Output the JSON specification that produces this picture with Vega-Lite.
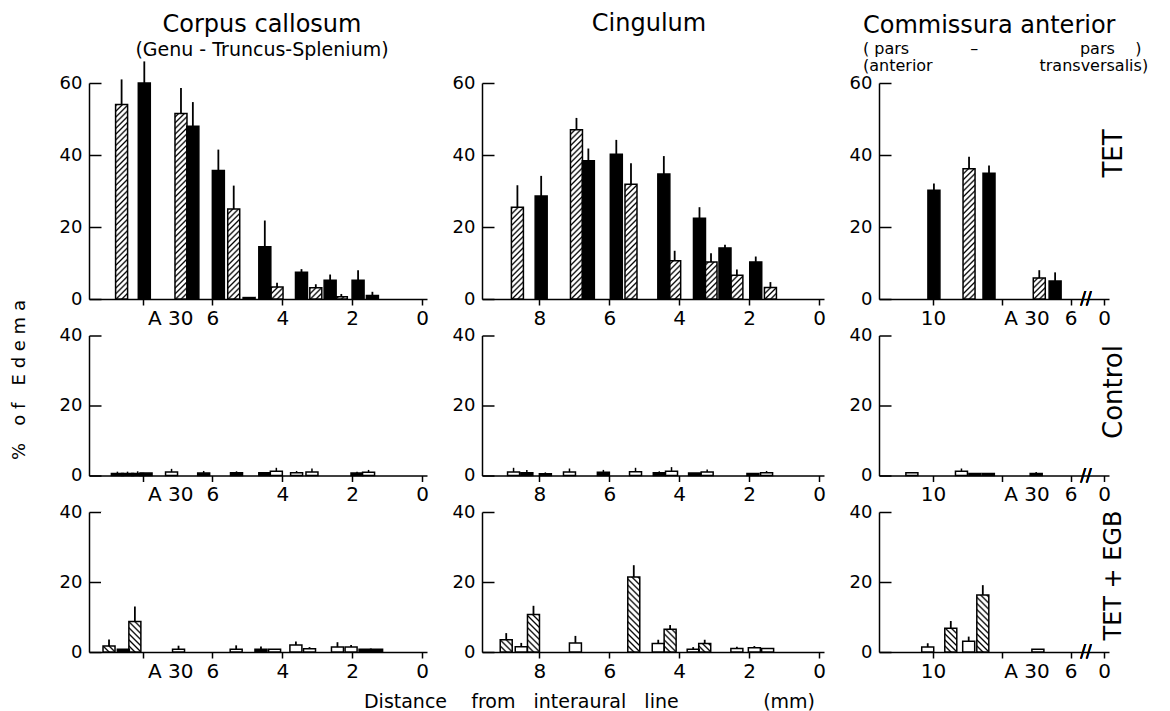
{
  "$schema": "https://vega.github.io/schema/vega-lite/v6.json",
  "background": "white",
  "padding": {"left": 9, "top": 12, "right": 5, "bottom": 3},
  "config": {
    "font": "DejaVu Sans",
    "view": {"stroke": null},
    "axis": {"grid": false, "domainColor": "#000", "domainWidth": 1.5, "tickColor": "#000", "tickWidth": 1.5, "labelColor": "#000", "labelFont": "DejaVu Sans", "titleColor": "#000", "titleFont": "DejaVu Sans", "titleFontWeight": "normal", "labelFlush": false, "labelOverlap": false},
    "axisX": {"tickSize": 6, "labelFontSize": 20, "labelPadding": 3},
    "axisY": {"tickSize": -12, "labelFontSize": 18, "labelPadding": 19},
    "title": {"font": "DejaVu Sans", "subtitleFont": "DejaVu Sans", "fontWeight": "normal", "color": "#000", "subtitleColor": "#000"}
  },
  "params": [
    {"name": "gA", "value": {"gradient": "linear", "x1": 0, "y1": 0, "x2": 0.0585, "y2": 1.0523, "stops": [
      {"offset":0,"color":"#000"},{"offset":0.008,"color":"#fff"},{"offset":0.017,"color":"#fff"},
      {"offset":0.025,"color":"#000"},{"offset":0.033,"color":"#fff"},{"offset":0.042,"color":"#fff"},
      {"offset":0.05,"color":"#000"},{"offset":0.058,"color":"#fff"},{"offset":0.067,"color":"#fff"},
      {"offset":0.075,"color":"#000"},{"offset":0.083,"color":"#fff"},{"offset":0.092,"color":"#fff"},
      {"offset":0.1,"color":"#000"},{"offset":0.108,"color":"#fff"},{"offset":0.117,"color":"#fff"},
      {"offset":0.125,"color":"#000"},{"offset":0.133,"color":"#fff"},{"offset":0.142,"color":"#fff"},
      {"offset":0.15,"color":"#000"},{"offset":0.158,"color":"#fff"},{"offset":0.167,"color":"#fff"},
      {"offset":0.175,"color":"#000"},{"offset":0.183,"color":"#fff"},{"offset":0.192,"color":"#fff"},
      {"offset":0.2,"color":"#000"},{"offset":0.208,"color":"#fff"},{"offset":0.217,"color":"#fff"},
      {"offset":0.225,"color":"#000"},{"offset":0.233,"color":"#fff"},{"offset":0.242,"color":"#fff"},
      {"offset":0.25,"color":"#000"},{"offset":0.258,"color":"#fff"},{"offset":0.267,"color":"#fff"},
      {"offset":0.275,"color":"#000"},{"offset":0.283,"color":"#fff"},{"offset":0.292,"color":"#fff"},
      {"offset":0.3,"color":"#000"},{"offset":0.308,"color":"#fff"},{"offset":0.317,"color":"#fff"},
      {"offset":0.325,"color":"#000"},{"offset":0.333,"color":"#fff"},{"offset":0.342,"color":"#fff"},
      {"offset":0.35,"color":"#000"},{"offset":0.358,"color":"#fff"},{"offset":0.367,"color":"#fff"},
      {"offset":0.375,"color":"#000"},{"offset":0.383,"color":"#fff"},{"offset":0.392,"color":"#fff"},
      {"offset":0.4,"color":"#000"},{"offset":0.408,"color":"#fff"},{"offset":0.417,"color":"#fff"},
      {"offset":0.425,"color":"#000"},{"offset":0.433,"color":"#fff"},{"offset":0.442,"color":"#fff"},
      {"offset":0.45,"color":"#000"},{"offset":0.458,"color":"#fff"},{"offset":0.467,"color":"#fff"},
      {"offset":0.475,"color":"#000"},{"offset":0.483,"color":"#fff"},{"offset":0.492,"color":"#fff"},
      {"offset":0.5,"color":"#000"},{"offset":0.508,"color":"#fff"},{"offset":0.517,"color":"#fff"},
      {"offset":0.525,"color":"#000"},{"offset":0.533,"color":"#fff"},{"offset":0.542,"color":"#fff"},
      {"offset":0.55,"color":"#000"},{"offset":0.558,"color":"#fff"},{"offset":0.567,"color":"#fff"},
      {"offset":0.575,"color":"#000"},{"offset":0.583,"color":"#fff"},{"offset":0.592,"color":"#fff"},
      {"offset":0.6,"color":"#000"},{"offset":0.608,"color":"#fff"},{"offset":0.617,"color":"#fff"},
      {"offset":0.625,"color":"#000"},{"offset":0.633,"color":"#fff"},{"offset":0.642,"color":"#fff"},
      {"offset":0.65,"color":"#000"},{"offset":0.658,"color":"#fff"},{"offset":0.667,"color":"#fff"},
      {"offset":0.675,"color":"#000"},{"offset":0.683,"color":"#fff"},{"offset":0.692,"color":"#fff"},
      {"offset":0.7,"color":"#000"},{"offset":0.708,"color":"#fff"},{"offset":0.717,"color":"#fff"},
      {"offset":0.725,"color":"#000"},{"offset":0.733,"color":"#fff"},{"offset":0.742,"color":"#fff"},
      {"offset":0.75,"color":"#000"},{"offset":0.758,"color":"#fff"},{"offset":0.767,"color":"#fff"},
      {"offset":0.775,"color":"#000"},{"offset":0.783,"color":"#fff"},{"offset":0.792,"color":"#fff"},
      {"offset":0.8,"color":"#000"},{"offset":0.808,"color":"#fff"},{"offset":0.817,"color":"#fff"},
      {"offset":0.825,"color":"#000"},{"offset":0.833,"color":"#fff"},{"offset":0.842,"color":"#fff"},
      {"offset":0.85,"color":"#000"},{"offset":0.858,"color":"#fff"},{"offset":0.867,"color":"#fff"},
      {"offset":0.875,"color":"#000"},{"offset":0.883,"color":"#fff"},{"offset":0.892,"color":"#fff"},
      {"offset":0.9,"color":"#000"},{"offset":0.908,"color":"#fff"},{"offset":0.917,"color":"#fff"},
      {"offset":0.925,"color":"#000"},{"offset":0.933,"color":"#fff"},{"offset":0.942,"color":"#fff"},
      {"offset":0.95,"color":"#000"},{"offset":0.958,"color":"#fff"},{"offset":0.967,"color":"#fff"},
      {"offset":0.975,"color":"#000"},{"offset":0.983,"color":"#fff"},{"offset":0.992,"color":"#fff"},
      {"offset":1,"color":"#000"}]}},
    {"name": "gB", "value": {"gradient": "linear", "x1": 1, "y1": 0, "x2": 0.9076, "y2": 1.0778, "stops": [
      {"offset":0,"color":"#000"},{"offset":0.012,"color":"#fff"},{"offset":0.028,"color":"#fff"},
      {"offset":0.04,"color":"#000"},{"offset":0.052,"color":"#fff"},{"offset":0.068,"color":"#fff"},
      {"offset":0.08,"color":"#000"},{"offset":0.092,"color":"#fff"},{"offset":0.108,"color":"#fff"},
      {"offset":0.12,"color":"#000"},{"offset":0.132,"color":"#fff"},{"offset":0.148,"color":"#fff"},
      {"offset":0.16,"color":"#000"},{"offset":0.172,"color":"#fff"},{"offset":0.188,"color":"#fff"},
      {"offset":0.2,"color":"#000"},{"offset":0.212,"color":"#fff"},{"offset":0.228,"color":"#fff"},
      {"offset":0.24,"color":"#000"},{"offset":0.252,"color":"#fff"},{"offset":0.268,"color":"#fff"},
      {"offset":0.28,"color":"#000"},{"offset":0.292,"color":"#fff"},{"offset":0.308,"color":"#fff"},
      {"offset":0.32,"color":"#000"},{"offset":0.332,"color":"#fff"},{"offset":0.348,"color":"#fff"},
      {"offset":0.36,"color":"#000"},{"offset":0.372,"color":"#fff"},{"offset":0.388,"color":"#fff"},
      {"offset":0.4,"color":"#000"},{"offset":0.412,"color":"#fff"},{"offset":0.428,"color":"#fff"},
      {"offset":0.44,"color":"#000"},{"offset":0.452,"color":"#fff"},{"offset":0.468,"color":"#fff"},
      {"offset":0.48,"color":"#000"},{"offset":0.492,"color":"#fff"},{"offset":0.508,"color":"#fff"},
      {"offset":0.52,"color":"#000"},{"offset":0.532,"color":"#fff"},{"offset":0.548,"color":"#fff"},
      {"offset":0.56,"color":"#000"},{"offset":0.572,"color":"#fff"},{"offset":0.588,"color":"#fff"},
      {"offset":0.6,"color":"#000"},{"offset":0.612,"color":"#fff"},{"offset":0.628,"color":"#fff"},
      {"offset":0.64,"color":"#000"},{"offset":0.652,"color":"#fff"},{"offset":0.668,"color":"#fff"},
      {"offset":0.68,"color":"#000"},{"offset":0.692,"color":"#fff"},{"offset":0.708,"color":"#fff"},
      {"offset":0.72,"color":"#000"},{"offset":0.732,"color":"#fff"},{"offset":0.748,"color":"#fff"},
      {"offset":0.76,"color":"#000"},{"offset":0.772,"color":"#fff"},{"offset":0.788,"color":"#fff"},
      {"offset":0.8,"color":"#000"},{"offset":0.812,"color":"#fff"},{"offset":0.828,"color":"#fff"},
      {"offset":0.84,"color":"#000"},{"offset":0.852,"color":"#fff"},{"offset":0.868,"color":"#fff"},
      {"offset":0.88,"color":"#000"},{"offset":0.892,"color":"#fff"},{"offset":0.908,"color":"#fff"},
      {"offset":0.92,"color":"#000"},{"offset":0.932,"color":"#fff"},{"offset":0.948,"color":"#fff"},
      {"offset":0.96,"color":"#000"},{"offset":0.972,"color":"#fff"},{"offset":0.988,"color":"#fff"},
      {"offset":1,"color":"#000"}]}}
  ],
  "datasets": {
    "d": [
      {"r":"T","c":"cc","mm":8.60,"v":54,"hi":61,"t":"h"},
      {"r":"T","c":"cc","mm":7.95,"v":60,"hi":66,"t":"b"},
      {"r":"T","c":"cc","mm":6.90,"v":51.5,"hi":58.6,"t":"h"},
      {"r":"T","c":"cc","mm":6.56,"v":48,"hi":54.7,"t":"b"},
      {"r":"T","c":"cc","mm":5.83,"v":35.7,"hi":41.5,"t":"b"},
      {"r":"T","c":"cc","mm":5.39,"v":25,"hi":31.5,"t":"h"},
      {"r":"T","c":"cc","mm":4.95,"v":0.4,"t":"b"},
      {"r":"T","c":"cc","mm":4.50,"v":14.5,"hi":21.8,"t":"b"},
      {"r":"T","c":"cc","mm":4.15,"v":3.3,"hi":4.5,"t":"h"},
      {"r":"T","c":"cc","mm":3.45,"v":7.4,"hi":8.3,"t":"b"},
      {"r":"T","c":"cc","mm":3.04,"v":3.1,"hi":4.1,"t":"h"},
      {"r":"T","c":"cc","mm":2.63,"v":5.2,"hi":6.8,"t":"b"},
      {"r":"T","c":"cc","mm":2.31,"v":0.6,"hi":1.4,"t":"h"},
      {"r":"T","c":"cc","mm":1.83,"v":5.2,"hi":8.0,"t":"b"},
      {"r":"T","c":"cc","mm":1.42,"v":1.0,"hi":2.0,"t":"b"},
      {"r":"T","c":"cg","mm":8.63,"v":25.5,"hi":31.6,"t":"h"},
      {"r":"T","c":"cg","mm":7.95,"v":28.6,"hi":34.2,"t":"b"},
      {"r":"T","c":"cg","mm":6.94,"v":47,"hi":50.3,"t":"h"},
      {"r":"T","c":"cg","mm":6.60,"v":38.4,"hi":41.8,"t":"b"},
      {"r":"T","c":"cg","mm":5.80,"v":40.2,"hi":44.2,"t":"b"},
      {"r":"T","c":"cg","mm":5.38,"v":31.9,"hi":37.7,"t":"h"},
      {"r":"T","c":"cg","mm":4.44,"v":34.7,"hi":39.7,"t":"b"},
      {"r":"T","c":"cg","mm":4.13,"v":10.6,"hi":13.4,"t":"h"},
      {"r":"T","c":"cg","mm":3.42,"v":22.4,"hi":25.5,"t":"b"},
      {"r":"T","c":"cg","mm":3.09,"v":10.3,"hi":12.7,"t":"h"},
      {"r":"T","c":"cg","mm":2.69,"v":14.2,"hi":15.1,"t":"b"},
      {"r":"T","c":"cg","mm":2.35,"v":6.6,"hi":8.2,"t":"h"},
      {"r":"T","c":"cg","mm":1.81,"v":10.3,"hi":11.8,"t":"b"},
      {"r":"T","c":"cg","mm":1.39,"v":3.2,"hi":4.7,"t":"h"},
      {"r":"T","c":"ca","mm":9.97,"v":30.2,"hi":32.1,"t":"b"},
      {"r":"T","c":"ca","mm":8.95,"v":36.2,"hi":39.5,"t":"h"},
      {"r":"T","c":"ca","mm":8.37,"v":34.9,"hi":37.1,"t":"b"},
      {"r":"T","c":"ca","mm":6.91,"v":5.8,"hi":8.0,"t":"h"},
      {"r":"T","c":"ca","mm":6.45,"v":5.0,"hi":7.4,"t":"b"},
      {"r":"C","c":"cc","mm":8.72,"v":0.6,"hi":1.1,"t":"b"},
      {"r":"C","c":"cc","mm":8.43,"v":0.6,"hi":1.1,"t":"b"},
      {"r":"C","c":"cc","mm":8.14,"v":0.6,"hi":1.2,"t":"b"},
      {"r":"C","c":"cc","mm":7.90,"v":0.7,"t":"b"},
      {"r":"C","c":"cc","mm":7.17,"v":1.0,"hi":1.9,"t":"o"},
      {"r":"C","c":"cc","mm":6.25,"v":0.7,"hi":1.3,"t":"b"},
      {"r":"C","c":"cc","mm":5.31,"v":0.8,"hi":1.2,"t":"b"},
      {"r":"C","c":"cc","mm":4.50,"v":0.8,"t":"b"},
      {"r":"C","c":"cc","mm":4.17,"v":1.2,"hi":2.2,"t":"o"},
      {"r":"C","c":"cc","mm":3.59,"v":0.8,"hi":1.3,"t":"o"},
      {"r":"C","c":"cc","mm":3.15,"v":1.0,"hi":2.0,"t":"o"},
      {"r":"C","c":"cc","mm":1.86,"v":0.7,"hi":1.1,"t":"b"},
      {"r":"C","c":"cc","mm":1.53,"v":0.9,"hi":1.6,"t":"o"},
      {"r":"C","c":"cg","mm":8.74,"v":1.0,"hi":2.2,"t":"o"},
      {"r":"C","c":"cg","mm":8.36,"v":0.8,"hi":1.6,"t":"b"},
      {"r":"C","c":"cg","mm":7.83,"v":0.5,"hi":0.9,"t":"b"},
      {"r":"C","c":"cg","mm":7.14,"v":1.0,"hi":2.0,"t":"o"},
      {"r":"C","c":"cg","mm":6.17,"v":0.9,"hi":1.6,"t":"b"},
      {"r":"C","c":"cg","mm":5.25,"v":1.1,"hi":2.2,"t":"o"},
      {"r":"C","c":"cg","mm":4.57,"v":0.8,"hi":1.2,"t":"b"},
      {"r":"C","c":"cg","mm":4.22,"v":1.2,"hi":2.4,"t":"o"},
      {"r":"C","c":"cg","mm":3.56,"v":0.7,"t":"b"},
      {"r":"C","c":"cg","mm":3.20,"v":1.0,"hi":1.7,"t":"o"},
      {"r":"C","c":"cg","mm":1.89,"v":0.6,"t":"b"},
      {"r":"C","c":"cg","mm":1.50,"v":0.8,"hi":1.3,"t":"o"},
      {"r":"C","c":"ca","mm":10.61,"v":0.8,"t":"o"},
      {"r":"C","c":"ca","mm":9.17,"v":1.2,"hi":2.0,"t":"o"},
      {"r":"C","c":"ca","mm":8.78,"v":0.6,"t":"b"},
      {"r":"C","c":"ca","mm":8.39,"v":0.6,"t":"b"},
      {"r":"C","c":"ca","mm":7.00,"v":0.6,"hi":1.0,"t":"b"},
      {"r":"E","c":"cc","mm":8.96,"v":1.7,"hi":3.6,"t":"h"},
      {"r":"E","c":"cc","mm":8.55,"v":0.8,"t":"b"},
      {"r":"E","c":"cc","mm":8.22,"v":8.75,"hi":13,"t":"h"},
      {"r":"E","c":"cc","mm":6.97,"v":0.8,"hi":1.8,"t":"o"},
      {"r":"E","c":"cc","mm":5.32,"v":0.8,"hi":1.9,"t":"o"},
      {"r":"E","c":"cc","mm":4.61,"v":0.8,"hi":1.6,"t":"b"},
      {"r":"E","c":"cc","mm":4.22,"v":0.8,"t":"o"},
      {"r":"E","c":"cc","mm":3.61,"v":2.0,"hi":3.0,"t":"o"},
      {"r":"E","c":"cc","mm":3.22,"v":0.9,"hi":1.4,"t":"o"},
      {"r":"E","c":"cc","mm":2.42,"v":1.4,"hi":2.8,"t":"o"},
      {"r":"E","c":"cc","mm":2.03,"v":1.4,"hi":2.0,"t":"o"},
      {"r":"E","c":"cc","mm":1.63,"v":0.8,"t":"b"},
      {"r":"E","c":"cc","mm":1.30,"v":0.8,"t":"b"},
      {"r":"E","c":"cg","mm":8.95,"v":3.5,"hi":5.4,"t":"h"},
      {"r":"E","c":"cg","mm":8.52,"v":1.5,"hi":2.6,"t":"o"},
      {"r":"E","c":"cg","mm":8.17,"v":10.7,"hi":13.2,"t":"h"},
      {"r":"E","c":"cg","mm":6.97,"v":2.6,"hi":4.6,"t":"o"},
      {"r":"E","c":"cg","mm":5.30,"v":21.4,"hi":24.8,"t":"h"},
      {"r":"E","c":"cg","mm":4.60,"v":2.4,"hi":3.5,"t":"o"},
      {"r":"E","c":"cg","mm":4.26,"v":6.5,"hi":7.7,"t":"h"},
      {"r":"E","c":"cg","mm":3.60,"v":0.8,"hi":1.4,"t":"o"},
      {"r":"E","c":"cg","mm":3.27,"v":2.4,"hi":3.5,"t":"h"},
      {"r":"E","c":"cg","mm":2.35,"v":1.0,"hi":1.5,"t":"o"},
      {"r":"E","c":"cg","mm":1.85,"v":1.2,"hi":1.7,"t":"o"},
      {"r":"E","c":"cg","mm":1.47,"v":1.0,"t":"o"},
      {"r":"E","c":"ca","mm":10.15,"v":1.4,"hi":2.5,"t":"o"},
      {"r":"E","c":"ca","mm":9.48,"v":6.8,"hi":8.85,"t":"h"},
      {"r":"E","c":"ca","mm":8.96,"v":3.1,"hi":4.4,"t":"o"},
      {"r":"E","c":"ca","mm":8.55,"v":16.3,"hi":19.1,"t":"h"},
      {"r":"E","c":"ca","mm":6.95,"v":0.8,"t":"o"}
    ]
  },
  "columns": 3,
  "spacing": {"row": 36.5, "column": 55},
  "bounds": "flush",
  "concat": [
    {
      "width": 338, "height": 216,
      "title": {"text": "Corpus callosum", "subtitle": "\u00a0\u00a0\u00a0\u00a0\u00a0(Genu - Truncus-Splenium)", "fontSize": 24, "subtitleFontSize": 19, "anchor": "middle", "frame": "group", "dx": 4, "offset": 1, "subtitlePadding": 4},
      "data": {"name": "d"},
      "transform": [{"filter": "datum.r=='T' && datum.c=='cc'"}],
      "encoding": {"x": {"field": "mm", "type": "quantitative", "scale": {"domain": [9.39, 0], "nice": false, "zero": false}, "axis": {"values": [8,6,4,2,0], "title": null, "labelExpr": "datum.value==8 ? 'A 30' : datum.label", "labelAlign": {"condition": {"test": "datum.value==8", "value": "left"}, "value": "center"}, "labelOffset": {"condition": {"test": "datum.value==8", "value": 5}, "value": 0}}}},
      "layer": [
        {"transform": [{"filter": "datum.t=='h'"}], "mark": {"type": "bar", "width": 12, "fill": {"expr": "gA"}, "strokeWidth": 0}, "encoding": {"y": {"datum": 60, "type": "quantitative", "scale": {"domain": [0, 60], "nice": false}}, "y2": {"datum": 0}}},
        {"transform": [{"filter": "datum.t=='h'"}], "mark": {"type": "bar", "width": 16, "fill": "#ffffff", "strokeWidth": 0}, "encoding": {"y": {"field": "v", "type": "quantitative", "scale": {"domain": [0, 60], "nice": false}}, "y2": {"datum": 60}}},
        {"mark": {"type": "bar", "width": 12, "stroke": "#000000", "strokeWidth": 1.5}, "encoding": {"y": {"field": "v", "type": "quantitative", "scale": {"domain": [0, 60], "nice": false}, "axis": {"values": [0,20,40,60], "title": null}}, "y2": {"datum": 0}, "fill": {"field": "t", "type": "nominal", "scale": {"domain": ["b","o","h"], "range": ["#000000","#ffffff","transparent"]}, "legend": null}}},
        {"transform": [{"filter": "isValid(datum.hi)"}], "mark": {"type": "rule", "strokeWidth": 1.8, "color": "#000000"}, "encoding": {"y": {"field": "v", "type": "quantitative", "scale": {"domain": [0, 60], "nice": false}}, "y2": {"field": "hi"}}}
      ]
    },
    {
      "width": 342, "height": 216,
      "title": {"text": "Cingulum", "fontSize": 24, "anchor": "middle", "frame": "group", "dx": -4, "offset": 38},
      "data": {"name": "d"},
      "transform": [{"filter": "datum.r=='T' && datum.c=='cg'"}],
      "encoding": {"x": {"field": "mm", "type": "quantitative", "scale": {"domain": [9.5, 0], "nice": false, "zero": false}, "axis": {"values": [8,6,4,2,0], "title": null}}},
      "layer": [
        {"transform": [{"filter": "datum.t=='h'"}], "mark": {"type": "bar", "width": 12, "fill": {"expr": "gA"}, "strokeWidth": 0}, "encoding": {"y": {"datum": 60, "type": "quantitative", "scale": {"domain": [0, 60], "nice": false}}, "y2": {"datum": 0}}},
        {"transform": [{"filter": "datum.t=='h'"}], "mark": {"type": "bar", "width": 16, "fill": "#ffffff", "strokeWidth": 0}, "encoding": {"y": {"field": "v", "type": "quantitative", "scale": {"domain": [0, 60], "nice": false}}, "y2": {"datum": 60}}},
        {"mark": {"type": "bar", "width": 12, "stroke": "#000000", "strokeWidth": 1.5}, "encoding": {"y": {"field": "v", "type": "quantitative", "scale": {"domain": [0, 60], "nice": false}, "axis": {"values": [0,20,40,60], "title": null}}, "y2": {"datum": 0}, "fill": {"field": "t", "type": "nominal", "scale": {"domain": ["b","o","h"], "range": ["#000000","#ffffff","transparent"]}, "legend": null}}},
        {"transform": [{"filter": "isValid(datum.hi)"}], "mark": {"type": "rule", "strokeWidth": 1.8, "color": "#000000"}, "encoding": {"y": {"field": "v", "type": "quantitative", "scale": {"domain": [0, 60], "nice": false}}, "y2": {"field": "hi"}}}
      ]
    },
    {
      "width": 230, "height": 216,
      "title": {"text": "Commissura anterior", "subtitle": ["(\u00a0pars\u00a0\u00a0\u00a0\u00a0\u00a0\u00a0\u00a0\u00a0\u00a0\u00a0\u00a0\u00a0\u2013\u00a0\u00a0\u00a0\u00a0\u00a0\u00a0\u00a0\u00a0\u00a0\u00a0\u00a0\u00a0\u00a0\u00a0\u00a0\u00a0\u00a0\u00a0\u00a0\u00a0pars\u00a0\u00a0\u00a0\u00a0)", "(anterior\u00a0\u00a0\u00a0\u00a0\u00a0\u00a0\u00a0\u00a0\u00a0\u00a0\u00a0\u00a0\u00a0\u00a0\u00a0\u00a0\u00a0\u00a0\u00a0\u00a0\u00a0transversalis)"], "fontSize": 24, "subtitleFontSize": 16, "subtitleLineHeight": 17, "anchor": "start", "frame": "group", "dx": -16, "offset": 0, "subtitlePadding": 3},
      "data": {"name": "d"},
      "transform": [{"filter": "datum.r=='T' && datum.c=='ca'"}],
      "encoding": {"x": {"field": "mm", "type": "quantitative", "scale": {"domain": [11.42, 5.03], "nice": false, "zero": false}, "axis": {"values": [10,8,6,5.03], "title": null, "labelExpr": "datum.value==8 ? 'A 30' : (datum.value < 5.5 ? '0' : datum.label)", "labelAlign": {"condition": {"test": "datum.value==8", "value": "left"}, "value": "center"}, "labelOffset": {"condition": {"test": "datum.value==8", "value": 2}, "value": 0}}}},
      "resolve": {"axis": {"y": "independent"}},
      "layer": [
        {"transform": [{"filter": "datum.t=='h'"}], "mark": {"type": "bar", "width": 12, "fill": {"expr": "gA"}, "strokeWidth": 0}, "encoding": {"y": {"datum": 60, "type": "quantitative", "scale": {"domain": [0, 60], "nice": false}, "axis": null}, "y2": {"datum": 0}}},
        {"transform": [{"filter": "datum.t=='h'"}], "mark": {"type": "bar", "width": 16, "fill": "#ffffff", "strokeWidth": 0}, "encoding": {"y": {"field": "v", "type": "quantitative", "scale": {"domain": [0, 60], "nice": false}, "axis": null}, "y2": {"datum": 60}}},
        {"mark": {"type": "bar", "width": 12, "stroke": "#000000", "strokeWidth": 1.5}, "encoding": {"y": {"field": "v", "type": "quantitative", "scale": {"domain": [0, 60], "nice": false}, "axis": {"values": [0,20,40,60], "title": null}}, "y2": {"datum": 0}, "fill": {"field": "t", "type": "nominal", "scale": {"domain": ["b","o","h"], "range": ["#000000","#ffffff","transparent"]}, "legend": null}}},
        {"transform": [{"filter": "isValid(datum.hi)"}], "mark": {"type": "rule", "strokeWidth": 1.8, "color": "#000000"}, "encoding": {"y": {"field": "v", "type": "quantitative", "scale": {"domain": [0, 60], "nice": false}, "axis": {"orient": "right", "title": "TET", "titleAngle": 270, "titleX": 4, "titleY": 70, "titleAlign": "center", "titleBaseline": "middle", "titleFontSize": 26, "domain": false, "ticks": false, "labels": false}}, "y2": {"field": "hi"}}},
        {"mark": {"type": "text", "text": "//", "fontSize": 17, "align": "center", "baseline": "middle"}, "encoding": {"x": {"datum": 5.55, "type": "quantitative"}, "y": {"datum": 0, "type": "quantitative", "scale": {"domain": [0, 60], "nice": false}, "axis": null}}}
      ]
    },
    {
      "width": 338, "height": 140,
      "data": {"name": "d"},
      "transform": [{"filter": "datum.r=='C' && datum.c=='cc'"}],
      "encoding": {"x": {"field": "mm", "type": "quantitative", "scale": {"domain": [9.39, 0], "nice": false, "zero": false}, "axis": {"values": [8,6,4,2,0], "title": null, "labelExpr": "datum.value==8 ? 'A 30' : datum.label", "labelAlign": {"condition": {"test": "datum.value==8", "value": "left"}, "value": "center"}, "labelOffset": {"condition": {"test": "datum.value==8", "value": 5}, "value": 0}}}},
      "layer": [
        {"mark": {"type": "bar", "width": 12, "stroke": "#000000", "strokeWidth": 1.5}, "encoding": {"y": {"field": "v", "type": "quantitative", "scale": {"domain": [0, 40], "nice": false}, "axis": {"values": [0,20,40], "title": "%\u00a0\u00a0\u00a0o\u00a0f\u00a0\u00a0\u00a0E\u00a0d\u00a0e\u00a0m\u00a0a", "titleX": -70, "titleY": 44, "titleAngle": 270, "titleAlign": "center", "titleBaseline": "middle", "titleFontSize": 18}}, "y2": {"datum": 0}, "fill": {"field": "t", "type": "nominal", "scale": {"domain": ["b","o","h"], "range": ["#000000","#ffffff","transparent"]}, "legend": null}}},
        {"transform": [{"filter": "isValid(datum.hi)"}], "mark": {"type": "rule", "strokeWidth": 1.5, "color": "#000000"}, "encoding": {"y": {"field": "v", "type": "quantitative", "scale": {"domain": [0, 40], "nice": false}}, "y2": {"field": "hi"}}}
      ]
    },
    {
      "width": 342, "height": 140,
      "data": {"name": "d"},
      "transform": [{"filter": "datum.r=='C' && datum.c=='cg'"}],
      "encoding": {"x": {"field": "mm", "type": "quantitative", "scale": {"domain": [9.5, 0], "nice": false, "zero": false}, "axis": {"values": [8,6,4,2,0], "title": null}}},
      "layer": [
        {"mark": {"type": "bar", "width": 12, "stroke": "#000000", "strokeWidth": 1.5}, "encoding": {"y": {"field": "v", "type": "quantitative", "scale": {"domain": [0, 40], "nice": false}, "axis": {"values": [0,20,40], "title": null}}, "y2": {"datum": 0}, "fill": {"field": "t", "type": "nominal", "scale": {"domain": ["b","o","h"], "range": ["#000000","#ffffff","transparent"]}, "legend": null}}},
        {"transform": [{"filter": "isValid(datum.hi)"}], "mark": {"type": "rule", "strokeWidth": 1.5, "color": "#000000"}, "encoding": {"y": {"field": "v", "type": "quantitative", "scale": {"domain": [0, 40], "nice": false}}, "y2": {"field": "hi"}}}
      ]
    },
    {
      "width": 230, "height": 140,
      "data": {"name": "d"},
      "transform": [{"filter": "datum.r=='C' && datum.c=='ca'"}],
      "encoding": {"x": {"field": "mm", "type": "quantitative", "scale": {"domain": [11.42, 5.03], "nice": false, "zero": false}, "axis": {"values": [10,8,6,5.03], "title": null, "labelExpr": "datum.value==8 ? 'A 30' : (datum.value < 5.5 ? '0' : datum.label)", "labelAlign": {"condition": {"test": "datum.value==8", "value": "left"}, "value": "center"}, "labelOffset": {"condition": {"test": "datum.value==8", "value": 2}, "value": 0}}}},
      "resolve": {"axis": {"y": "independent"}},
      "layer": [
        {"mark": {"type": "bar", "width": 12, "stroke": "#000000", "strokeWidth": 1.5}, "encoding": {"y": {"field": "v", "type": "quantitative", "scale": {"domain": [0, 40], "nice": false}, "axis": {"values": [0,20,40], "title": null}}, "y2": {"datum": 0}, "fill": {"field": "t", "type": "nominal", "scale": {"domain": ["b","o","h"], "range": ["#000000","#ffffff","transparent"]}, "legend": null}}},
        {"transform": [{"filter": "isValid(datum.hi)"}], "mark": {"type": "rule", "strokeWidth": 1.5, "color": "#000000"}, "encoding": {"y": {"field": "v", "type": "quantitative", "scale": {"domain": [0, 40], "nice": false}, "axis": {"orient": "right", "title": "Control", "titleAngle": 270, "titleX": 4, "titleY": 56, "titleAlign": "center", "titleBaseline": "middle", "titleFontSize": 26, "domain": false, "ticks": false, "labels": false}}, "y2": {"field": "hi"}}},
        {"mark": {"type": "text", "text": "//", "fontSize": 17, "align": "center", "baseline": "middle"}, "encoding": {"x": {"datum": 5.55, "type": "quantitative"}, "y": {"datum": 0, "type": "quantitative", "scale": {"domain": [0, 40], "nice": false}, "axis": null}}}
      ]
    },
    {
      "width": 338, "height": 140,
      "data": {"name": "d"},
      "transform": [{"filter": "datum.r=='E' && datum.c=='cc'"}],
      "encoding": {"x": {"field": "mm", "type": "quantitative", "scale": {"domain": [9.39, 0], "nice": false, "zero": false}, "axis": {"values": [8,6,4,2,0], "title": null, "labelExpr": "datum.value==8 ? 'A 30' : datum.label", "labelAlign": {"condition": {"test": "datum.value==8", "value": "left"}, "value": "center"}, "labelOffset": {"condition": {"test": "datum.value==8", "value": 5}, "value": 0}}}},
      "layer": [
        {"transform": [{"filter": "datum.t=='h'"}], "mark": {"type": "bar", "width": 12, "fill": {"expr": "gB"}, "strokeWidth": 0}, "encoding": {"y": {"datum": 40, "type": "quantitative", "scale": {"domain": [0, 40], "nice": false}}, "y2": {"datum": 0}}},
        {"transform": [{"filter": "datum.t=='h'"}], "mark": {"type": "bar", "width": 16, "fill": "#ffffff", "strokeWidth": 0}, "encoding": {"y": {"field": "v", "type": "quantitative", "scale": {"domain": [0, 40], "nice": false}}, "y2": {"datum": 40}}},
        {"mark": {"type": "bar", "width": 12, "stroke": "#000000", "strokeWidth": 1.5}, "encoding": {"y": {"field": "v", "type": "quantitative", "scale": {"domain": [0, 40], "nice": false}, "axis": {"values": [0,20,40], "title": null}}, "y2": {"datum": 0}, "fill": {"field": "t", "type": "nominal", "scale": {"domain": ["b","o","h"], "range": ["#000000","#ffffff","transparent"]}, "legend": null}}},
        {"transform": [{"filter": "isValid(datum.hi)"}], "mark": {"type": "rule", "strokeWidth": 1.8, "color": "#000000"}, "encoding": {"y": {"field": "v", "type": "quantitative", "scale": {"domain": [0, 40], "nice": false}}, "y2": {"field": "hi"}}}
      ]
    },
    {
      "width": 342, "height": 140,
      "data": {"name": "d"},
      "transform": [{"filter": "datum.r=='E' && datum.c=='cg'"}],
      "encoding": {"x": {"field": "mm", "type": "quantitative", "scale": {"domain": [9.5, 0], "nice": false, "zero": false}, "axis": {"values": [8,6,4,2,0], "title": "Distance\u00a0\u00a0\u00a0\u00a0from\u00a0\u00a0\u00a0interaural\u00a0\u00a0\u00a0line\u00a0\u00a0\u00a0\u00a0\u00a0\u00a0\u00a0\u00a0\u00a0\u00a0\u00a0\u00a0\u00a0\u00a0(mm)", "titleX": 107, "titleY": 55, "titleAlign": "center", "titleBaseline": "alphabetic", "titleFontSize": 19, "titleAngle": 0}}},
      "layer": [
        {"transform": [{"filter": "datum.t=='h'"}], "mark": {"type": "bar", "width": 12, "fill": {"expr": "gB"}, "strokeWidth": 0}, "encoding": {"y": {"datum": 40, "type": "quantitative", "scale": {"domain": [0, 40], "nice": false}}, "y2": {"datum": 0}}},
        {"transform": [{"filter": "datum.t=='h'"}], "mark": {"type": "bar", "width": 16, "fill": "#ffffff", "strokeWidth": 0}, "encoding": {"y": {"field": "v", "type": "quantitative", "scale": {"domain": [0, 40], "nice": false}}, "y2": {"datum": 40}}},
        {"mark": {"type": "bar", "width": 12, "stroke": "#000000", "strokeWidth": 1.5}, "encoding": {"y": {"field": "v", "type": "quantitative", "scale": {"domain": [0, 40], "nice": false}, "axis": {"values": [0,20,40], "title": null}}, "y2": {"datum": 0}, "fill": {"field": "t", "type": "nominal", "scale": {"domain": ["b","o","h"], "range": ["#000000","#ffffff","transparent"]}, "legend": null}}},
        {"transform": [{"filter": "isValid(datum.hi)"}], "mark": {"type": "rule", "strokeWidth": 1.8, "color": "#000000"}, "encoding": {"y": {"field": "v", "type": "quantitative", "scale": {"domain": [0, 40], "nice": false}}, "y2": {"field": "hi"}}}
      ]
    },
    {
      "width": 230, "height": 140,
      "data": {"name": "d"},
      "transform": [{"filter": "datum.r=='E' && datum.c=='ca'"}],
      "encoding": {"x": {"field": "mm", "type": "quantitative", "scale": {"domain": [11.42, 5.03], "nice": false, "zero": false}, "axis": {"values": [10,8,6,5.03], "title": null, "labelExpr": "datum.value==8 ? 'A 30' : (datum.value < 5.5 ? '0' : datum.label)", "labelAlign": {"condition": {"test": "datum.value==8", "value": "left"}, "value": "center"}, "labelOffset": {"condition": {"test": "datum.value==8", "value": 2}, "value": 0}}}},
      "resolve": {"axis": {"y": "independent"}},
      "layer": [
        {"transform": [{"filter": "datum.t=='h'"}], "mark": {"type": "bar", "width": 12, "fill": {"expr": "gB"}, "strokeWidth": 0}, "encoding": {"y": {"datum": 40, "type": "quantitative", "scale": {"domain": [0, 40], "nice": false}, "axis": null}, "y2": {"datum": 0}}},
        {"transform": [{"filter": "datum.t=='h'"}], "mark": {"type": "bar", "width": 16, "fill": "#ffffff", "strokeWidth": 0}, "encoding": {"y": {"field": "v", "type": "quantitative", "scale": {"domain": [0, 40], "nice": false}, "axis": null}, "y2": {"datum": 40}}},
        {"mark": {"type": "bar", "width": 12, "stroke": "#000000", "strokeWidth": 1.5}, "encoding": {"y": {"field": "v", "type": "quantitative", "scale": {"domain": [0, 40], "nice": false}, "axis": {"values": [0,20,40], "title": null}}, "y2": {"datum": 0}, "fill": {"field": "t", "type": "nominal", "scale": {"domain": ["b","o","h"], "range": ["#000000","#ffffff","transparent"]}, "legend": null}}},
        {"transform": [{"filter": "isValid(datum.hi)"}], "mark": {"type": "rule", "strokeWidth": 1.8, "color": "#000000"}, "encoding": {"y": {"field": "v", "type": "quantitative", "scale": {"domain": [0, 40], "nice": false}, "axis": {"orient": "right", "title": "TET + EGB", "titleAngle": 270, "titleX": 4, "titleY": 63, "titleAlign": "center", "titleBaseline": "middle", "titleFontSize": 24, "domain": false, "ticks": false, "labels": false}}, "y2": {"field": "hi"}}},
        {"mark": {"type": "text", "text": "//", "fontSize": 17, "align": "center", "baseline": "middle"}, "encoding": {"x": {"datum": 5.55, "type": "quantitative"}, "y": {"datum": 0, "type": "quantitative", "scale": {"domain": [0, 40], "nice": false}, "axis": null}}}
      ]
    }
  ]
}
